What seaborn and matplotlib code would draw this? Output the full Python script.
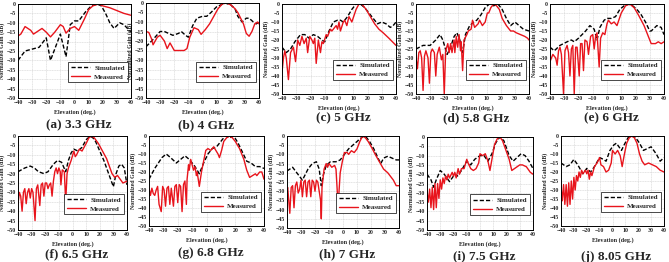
import numpy as np
import pandas as pd
import matplotlib
matplotlib.use("Agg")
import matplotlib.pyplot as plt
import seaborn as sns

# ---- data ----
captions = ['(a) 3.3 GHz', '(b) 4 GHz', '(c) 5 GHz', '(d) 5.8 GHz', '(e) 6 GHz',
            '(f) 6.5 GHz', '(g) 6.8 GHz', '(h) 7 GHz', '(i) 7.5 GHz', '(j) 8.05 GHz']

a_sim_x = [-40, -35, -30, -25, -20, -17, -10, -6, -3, 0, 3, 8, 12, 16, 19, 22, 25, 28, 32, 35, 40]
a_sim_y = [-30, -25, -24, -23, -18, -30, -16, -28, -11, -9, -9, -4, -1, 0, -1, -5, -10, -13, -10, -11, -15]
a_mea_x = [-40, -38, -35, -31, -29, -25, -23, -20, -17, -14, -10, -8, -6, -3, 0, 3, 7, 10, 13, 17, 20, 25, 30, 35, 40]
a_mea_y = [-17, -16, -12, -14, -16, -14, -13, -15, -17.5, -15, -11, -12, -15.5, -13, -12, -14, -8, -3, -1, 0, -1, -2, -3.5, -5, -6]

b_sim_x = [-40, -36, -30, -27, -21, -17, -15, -12, -10, -7, -4, 0, 3, 6, 10, 16, 20, 23, 25, 28, 31, 33, 36, 38, 40]
b_sim_y = [-23, -20, -15, -15, -17, -16, -15, -17, -18, -12, -8, -7, -7, -5, -2, 0, -1, -3, -7, -10, -8, -8, -10, -11, -10]
b_mea_x = [-40, -38, -36, -35, -32, -30, -27, -25, -23, -20, -16, -13, -11, -9, -6, -3, -1, 2, 5, 8, 11, 14, 17,
           20, 23, 25, 27, 29, 31, 33, 35, 37, 39, 40]
b_mea_y = [-15, -15.5, -19, -22, -18, -17, -20, -24, -21, -25, -25, -25, -24, -18, -13, -14, -16.5, -14, -11, -7, -3,
           -0.5, 0, -1, -3, -5, -8, -11, -16, -17.5, -15, -11, -10, -11]

c_sim_x = [-40, -37, -34, -31, -27, -24, -21, -18, -15, -12, -10, -7, -4, -1, 1, 3, 6, 9, 12, 15, 18, 21, 24, 27,
           30, 33, 36, 38, 40]
c_sim_y = [-24, -27, -25, -21, -17, -17, -19, -17, -18, -20, -21, -15, -10, -9, -9, -10, -7, -3, 0, 0, -2, -5, -8,
           -11, -10, -11, -13, -12, -10]
c_mea_x = [-40, -39, -38, -37, -35.5, -34, -32, -30.5, -29, -27.5, -26, -24.5, -23, -22, -20.5, -19, -18, -17, -16,
           -14.5, -13, -12, -11, -9, -8, -6, -5, -3, -2, -1, 0, 1, 3, 4, 5.5, 7, 9, 12, 14, 16, 19, 22, 25, 28, 31,
           35, 40]
c_mea_y = [-38, -30, -26, -30, -42, -27, -24, -32, -20, -23, -18, -22, -19, -27, -18, -20, -22, -19, -33, -20, -27,
           -21, -22, -17, -18, -14, -15, -13, -12, -14, -10, -15, -10, -9, -12, -7, -10, -3, 0, 0, -3, -7, -11, -14,
           -16, -19, -23]

d_sim_x = [-40, -35, -30, -26, -23, -21, -18, -16, -13, -11, -9, -7, -5, -2, 1, 3, 6, 9, 12, 15, 18, 21, 24, 27,
           30, 33, 36, 40]
d_sim_y = [-25, -23, -23, -20, -17, -20, -28, -25, -18, -16, -20, -27, -17, -12, -10, -9, -6, -2, 0, -1, 0, -3, -8,
           -12, -10, -12, -14, -15]
d_mea_x = [-40, -39, -38, -37, -36, -35, -34, -33, -31.5, -30.5, -29.5, -28.5, -27, -26, -25, -23.5, -22, -21, -20,
           -19, -17.5, -16.5, -15.5, -14.5, -13, -12.5, -11.5, -10.5, -9.5, -8.5, -8, -7, -6, -4, -3, -1, 0, 1.5,
           4, 5, 7, 9, 10.5, 11.5, 13, 15, 17, 19, 21, 24, 27, 29, 31, 34, 37, 39, 40]
d_mea_y = [-30, -36, -27, -26, -30, -48, -29, -26, -30, -44, -27, -25, -27, -40, -28, -24, -31, -28, -50, -26, -22,
           -27, -22, -27, -20, -27, -18, -24, -17, -26, -21, -37, -20, -17, -15, -14, -9, -13, -11, -9, -12, -10,
           -5, -5, -2, 0, -1, -3, -8, -12, -15, -15, -16, -17, -18, -19, -20]

e_sim_x = [-40, -37, -33, -28, -25, -23, -20, -15, -12, -9, -7, -5, -2, 0, 3, 6, 9, 12, 15, 18, 21, 24, 27, 30,
           31, 35, 38, 40]
e_sim_y = [-24, -26, -23, -21, -20, -21, -19, -15, -12, -14, -20, -13, -9, -8, -8, -7, -3, -1, 0, -1, -3, -6, -10,
           -15, -15, -12, -13, -17]
e_mea_x = [-40, -38, -36, -35, -34, -33, -32, -30.5, -29.5, -28, -27, -26, -25, -24, -23, -22, -21, -19.5, -18.5,
           -17.5, -16.5, -15.5, -14, -13, -11.5, -10, -9, -8, -7, -5.5, -4.5, -3, -1.5, 0, 1, 3, 5, 7, 10, 13, 16,
           19, 22, 26, 29, 31, 34, 36, 38, 40]
e_mea_y = [-32, -28, -30, -34, -26, -24, -28, -50, -26, -23, -27, -40, -25, -23, -50, -24, -24, -40, -22, -22, -37,
           -20, -21, -28, -18, -17, -25, -18, -16, -35, -19, -16, -17, -11, -9, -11, -10, -12, -5, -1, 0, -2, -6,
           -12, -18, -22, -22, -21, -22, -21]

f_sim_x = [-40, -35, -31, -28, -25, -21, -18, -14, -11, -8, -5, -3, -1, 1, 4, 7, 10, 13, 15, 17, 20, 23, 26, 28,
           30, 32, 34, 36, 38, 40]
f_sim_y = [-19, -17, -16, -17, -19, -20, -19, -15, -13, -14, -19, -13, -9, -7, -8, -6, -2, 0, -1, -3, -8, -13, -19,
           -23, -27, -20, -16, -15, -17, -26]
f_mea_x = [-40, -39, -38, -37, -36, -35, -34, -33, -32, -31, -30, -29, -27.5, -26.5, -25.5, -24, -23, -22, -21, -20,
           -19, -18, -17, -16, -15, -14, -13, -12, -11, -10, -9, -8.5, -7.5, -6, -5, -4, -3, -1, 1, 2, 3, 5, 7, 10,
           12, 14, 16, 19, 22, 25, 27, 29, 31, 33, 35, 37, 40]
f_mea_y = [-36, -30, -32, -40, -30, -28, -36, -30, -28, -33, -28, -30, -45, -28, -26, -37, -26, -25, -32, -25, -25,
           -28, -26, -25, -32, -24, -19, -17, -20, -17, -19, -26, -18, -19, -35, -20, -17, -13, -8, -11, -10, -7,
           -8, -4, -1, 0, -1, -4, -8, -12, -16, -20, -22, -21, -23, -25, -24]

g_sim_x = [-40, -36, -31, -28, -25, -21, -18, -15, -12, -8, -5, -2, 1, 4, 7, 10, 13, 16, 19, 22, 25, 28, 31, 34,
           37, 40]
g_sim_y = [-24, -18, -12, -10, -12, -15, -13, -11, -13, -17, -21, -15, -10, -7, -6, -3, 0, -1, 0, -4, -9, -14, -15,
           -17, -17, -18]
g_mea_x = [-40, -39, -38, -37, -36, -35, -34, -33, -31.5, -30.5, -29.5, -28.5, -27.5, -26.5, -25.5, -24.5, -23, -22,
           -21, -20, -19, -18, -17, -16, -15, -14, -13.5, -12.5, -12, -11, -10, -9, -8, -7, -6.5, -5, -3.5, -2,
           -0.5, 1, 3, 5, 8, 9, 10.5, 12, 14, 16, 18, 20, 23, 26, 28, 30, 32, 34, 35, 37, 38.5, 40]
g_mea_y = [-29, -33, -29, -32, -33, -30, -28, -38, -42, -28, -30, -39, -29, -28, -38, -29, -39, -28, -27, -37, -27,
           -28, -42, -27, -25, -38, -24, -16, -19, -13, -16, -19, -17, -22, -20, -28, -20, -14, -8, -7, -8, -6, -10,
           -12, -8, -3, -1, 0, -1, -3, -7, -13, -19, -23, -22, -21, -22, -20, -20, -24]

h_sim_x = [-40, -36, -32, -29, -25, -22, -19, -17, -15.5, -14, -12, -9, -5, -2, 1, 4, 7, 10, 13, 15, 17, 19, 22,
           25, 27, 29, 32, 35, 38, 40]
h_sim_y = [-19, -17, -21, -24, -18, -15, -14, -18, -27, -21, -16, -14, -14, -13, -10, -7, -5, -3, -1, 0, -1, -3, -7,
           -12, -15, -12, -11, -12, -13, -13]
h_mea_x = [-40, -39.5, -38, -37, -36, -35, -34, -33, -32, -31, -30, -29, -28, -27, -26, -25, -24, -23, -22, -21,
           -20, -19, -18, -17, -16, -15.5, -15, -13.5, -12, -11, -10, -8, -6, -5, -3.5, -2, -0.5, 1, 3, 4, 6, 8,
           10, 12, 14, 16, 18, 21, 23, 26, 29, 32, 34, 36, 38, 40]
h_mea_y = [-29, -28, -42, -28, -27, -39, -27, -25, -31, -29, -24, -33, -25, -24, -33, -25, -24, -33, -24, -25, -30,
           -24, -25, -30, -35, -45, -28, -18, -15, -17, -15, -17, -16, -18, -38, -20, -14, -9, -9, -10, -8, -9,
           -7, -3, 0, -1, -3, -7, -10, -14, -18, -20, -22, -24, -27, -27]

i_sim_x = [-40, -37, -35, -33, -30, -27, -23, -19, -17, -14, -10, -7, -4, 0, 3, 6, 9, 12, 15, 18, 20, 22, 25, 28,
           31, 34, 37, 40]
i_sim_y = [-20, -23, -27, -23, -18, -20, -24, -20, -21, -18, -13, -15, -12, -10, -10, -13, -9, -3, 0, -2, -6, -10,
           -13, -11, -9, -10, -13, -17]
i_mea_x = [-40, -39, -38, -37, -36, -35, -34, -33, -32, -31, -30, -29, -28, -27, -26, -25, -24, -23, -21, -20, -19,
           -18, -16.5, -15.5, -14, -12, -10, -9, -7, -5, -3, -1, 0, 2, 4, 6, 7.5, 9, 11, 13, 15, 17, 19, 22, 24,
           26, 28, 30, 32, 35, 38, 40]
i_mea_y = [-29, -35, -28, -38, -27, -39, -25, -38, -25, -33, -23, -28, -22, -25, -21, -23, -20, -22, -19, -21, -19,
           -22, -17, -20, -17, -17, -12, -14, -17, -18, -17, -14, -9, -10, -9, -13, -18, -12, -4, -1, 0, -2, -6,
           -12, -18, -17, -16, -15, -15, -16, -19, -20]

j_sim_x = [-40, -36, -33, -30, -27, -23, -20, -17, -14, -10, -7, -5, -2, 1, 3, 5, 7, 9, 12, 15, 18, 21, 24, 27,
           30, 34, 37, 40]
j_sim_y = [-15, -17, -16, -13, -16, -21, -18, -20, -17, -12, -13, -14, -8, -5, -4, -6, -8, -5, -1, 0, -1, -4, -8,
           -7, -6, -10, -14, -12]
j_mea_x = [-40, -39, -38, -37, -36, -35, -34, -33, -32, -31, -30, -29, -28, -27, -26, -25, -24, -23, -21, -20, -19,
           -18, -17, -16, -14, -12, -10, -9, -7, -5, -3, -1, 0, 2, 4, 6, 7.5, 9, 11, 13, 15, 17, 19, 21, 23, 25,
           28, 31, 34, 37, 40]
j_mea_y = [-28, -36, -27, -38, -27, -39, -26, -38, -25, -35, -23, -30, -22, -25, -20, -23, -19, -21, -19, -21, -19,
           -24, -20, -22, -17, -15, -12, -16, -17, -20, -19, -15, -8, -10, -8, -11, -17, -11, -4, -1, 0, -1, -4,
           -10, -14, -16, -15, -16, -17, -19, -20]

sims = [(a_sim_x, a_sim_y), (b_sim_x, b_sim_y), (c_sim_x, c_sim_y), (d_sim_x, d_sim_y), (e_sim_x, e_sim_y),
        (f_sim_x, f_sim_y), (g_sim_x, g_sim_y), (h_sim_x, h_sim_y), (i_sim_x, i_sim_y), (j_sim_x, j_sim_y)]
meas = [(a_mea_x, a_mea_y), (b_mea_x, b_mea_y), (c_mea_x, c_mea_y), (d_mea_x, d_mea_y), (e_mea_x, e_mea_y),
        (f_mea_x, f_mea_y), (g_mea_x, g_mea_y), (h_mea_x, h_mea_y), (i_mea_x, i_mea_y), (j_mea_x, j_mea_y)]

# ---- style ----
sns.set_style("whitegrid")
plt.rcParams['font.family'] = ['Liberation Serif', 'DejaVu Serif']
plt.rcParams['font.weight'] = 'bold'

W, H = 669, 262
fig = plt.figure(figsize=(W / 100, H / 100), dpi=100)

# axes boxes in pixels: left, right, top, bottom ; caption y
boxes = [(18, 131, 4, 98, 125), (146, 259, 3, 98, 125), (282, 396, 4, 94, 118), (416, 529, 4, 94, 118),
         (550, 664, 4, 94, 118),
         (18, 127, 136, 230, 254), (149, 264, 136, 226, 253), (287, 399, 136, 228, 254), (427, 533, 137, 230, 256),
         (561, 664, 136, 226, 257)]

for k, (l, r, t, b, cy) in enumerate(boxes):
    ax = fig.add_axes([l / W, 1 - b / H, (r - l) / W, (b - t) / H])
    sx, sy = sims[k]
    mx, my = meas[k]
    sim_df = pd.DataFrame({'Elevation': sx, 'Gain': sy})
    mea_df = pd.DataFrame({'Elevation': mx, 'Gain': my})
    sns.lineplot(data=sim_df, x='Elevation', y='Gain', ax=ax, color='black', lw=1.0,
                 linestyle=(0, (3, 1.5)), label='Simulated', sort=False)
    sns.lineplot(data=mea_df, x='Elevation', y='Gain', ax=ax, color='#e8141c', lw=1.0,
                 label='Measured', sort=False)
    ax.set_xlim(-40, 40)
    ax.set_ylim(-50, 0)
    ax.set_xticks(np.arange(-40, 41, 10))
    ax.set_yticks(np.arange(-50, 1, 5))
    ax.tick_params(labelsize=4.2, direction='in', length=1.5, width=0.5, pad=1.5)
    for lab in ax.get_xticklabels() + ax.get_yticklabels():
        lab.set_fontweight('bold')
    ax.grid(True, color='#d0d0d0', lw=0.4, linestyle=(0, (2, 1)))
    for sp in ax.spines.values():
        sp.set_color('black')
        sp.set_linewidth(0.7)
    ax.set_xlabel('Elevation (deg.)', fontsize=4.4, fontweight='bold', labelpad=3)
    ax.set_ylabel('Normalized Gain (dB)', fontsize=4.2, fontweight='bold', labelpad=1)
    leg = ax.legend(loc='upper right', bbox_to_anchor=(1.0, 0.42), fontsize=5.0, frameon=True,
                    handlelength=2.8, borderpad=0.4, labelspacing=0.45, handletextpad=0.6,
                    fancybox=False, edgecolor='black', framealpha=1)
    leg.get_frame().set_linewidth(0.5)
    for txt in leg.get_texts():
        txt.set_fontweight('bold')
    fig.text(((l + r) / 2 + 4) / W, 1 - cy / H, captions[k], ha='center', va='center',
             fontsize=9.5, fontweight='bold')

fig.savefig('out.png', dpi=100)
